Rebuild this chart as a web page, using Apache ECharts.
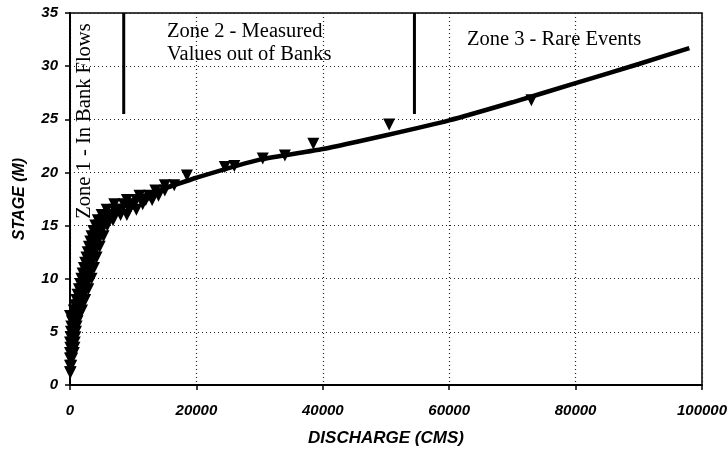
<!DOCTYPE html>
<html lang="en">
<head>
  <meta charset="UTF-8">
  <title>Stage - Discharge</title>
  <style>
    html, body { margin: 0; padding: 0; background: #fff; }
    #main { width: 727px; height: 451px; }
  </style>
</head>
<body>
  <div id="main"></div>
  <script src="https://cdn.jsdelivr.net/npm/echarts@6/dist/echarts.min.js"></script>
  <script>
    // rating curve (discharge in cms, stage in m)
    const curveQ = [0, 300, 600, 1200, 1800, 2500, 3100, 3700, 4500, 5500, 6700, 8500, 10500, 13000, 16000, 20000, 30000, 40000, 50000, 60000, 70000, 80000, 90000, 98000]
    const curveH = [1.2, 3, 5, 6.5, 8, 10, 12, 13, 15, 15.6, 16, 17, 17.5, 18.1, 18.7, 19.5, 21.2, 22.2, 23.5, 24.9, 26.6, 28.4, 30.2, 31.7]

    // measured values
    const obsQ = [
      0, 100, 0, 200, 0, 150, 350, 0, 300, 600, 50, 400, 700, 0, 350, 750, 100, 500, 850,
      150, 600, 950, 200, 700, 1050, 300, 850, 1200, 0, 500, 1000, 1400, 600, 1100, 1550,
      800, 1300, 1750, 1000, 1500, 2000, 1200, 1700, 2200, 1400, 1900, 2400, 1600, 2100, 2600,
      1800, 2400, 2900, 2000, 2600, 3100, 2200, 2800, 3300, 2400, 3000, 3500, 2600, 3200, 3700,
      2800, 3400, 3900, 3000, 3600, 4200, 3200, 3800, 4400, 3400, 4000, 4700, 3700, 4300, 5000,
      4000, 4600, 5300, 4400, 5200, 6000, 5000, 6000, 7000, 8000, 5800, 7000, 8200, 9400,
      7000, 8500, 10000, 9000, 10500, 12000, 11000, 12500, 14000, 13500, 15000, 15000, 16500,
      1900, 2400, 2900, 3400, 3800, 4200, 4700, 5300, 5900, 6800, 9000, 10500, 11500, 13000,
      18500, 24500, 26000, 30500, 34000, 38500, 50500, 73000]
    const obsH = [
      1.2, 1.2, 1.8, 1.8, 2.5, 2.5, 2.5, 3, 3, 3, 3.5, 3.5, 3.5, 4, 4, 4, 4.5, 4.5, 4.5,
      5, 5, 5, 5.5, 5.5, 5.5, 6, 6, 6, 6.5, 6.5, 6.5, 6.5, 7, 7, 7,
      7.5, 7.5, 7.5, 8, 8, 8, 8.5, 8.5, 8.5, 9, 9, 9, 9.5, 9.5, 9.5,
      10, 10, 10, 10.5, 10.5, 10.5, 11, 11, 11, 11.5, 11.5, 11.5, 12, 12, 12,
      12.5, 12.5, 12.5, 13, 13, 13, 13.5, 13.5, 13.5, 14, 14, 14, 14.5, 14.5, 14.5,
      15, 15, 15, 15.5, 15.5, 15.5, 16, 16, 16, 16, 16.5, 16.5, 16.5, 16.5,
      17, 17, 17, 17.4, 17.4, 17.4, 17.8, 17.8, 17.8, 18.3, 18.3, 18.8, 18.8,
      7, 8, 9, 10, 11, 12, 13, 14, 15, 15.5, 16, 16.5, 17, 17.4,
      19.7, 20.5, 20.6, 21.3, 21.6, 22.7, 24.5, 26.8]

    // zone boundaries
    const zoneQ = [8500, 54500]
    const zoneH = [35, 25.5]

    const xTicks = [0, 20000, 40000, 60000, 80000, 100000]
    const yTicks = [0, 5, 10, 15, 20, 25, 30, 35]

    const myChart = echarts.init(document.getElementById('main'))

    const tickFont = { fontFamily: 'Liberation Sans', fontWeight: 'bold', fontStyle: 'italic', fontSize: 15, color: '#000' }
    const zoneFont = 'normal 20.5px "Liberation Serif"'

    const option = {
      animation: false,
      grid: {
        left: 70, right: 25, top: 13, bottom: 66, outerBoundsMode: 'none',
        show: true, borderColor: '#000', borderWidth: 1.5
      },
      xAxis: {
        type: 'value', min: xTicks[0], max: xTicks[xTicks.length - 1], interval: 20000,
        axisLine: { lineStyle: { color: '#000', width: 2 } },
        axisTick: { show: true, length: 5, lineStyle: { color: '#000', width: 1.5 } },
        axisLabel: Object.assign({ margin: 18, formatter: v => String(v) }, tickFont),
        splitLine: { show: true, lineStyle: { type: [1, 3], color: '#222', width: 1.2 } },
        name: 'DISCHARGE (CMS)', nameLocation: 'middle', nameGap: 45,
        nameTextStyle: Object.assign({}, tickFont, { fontSize: 17 })
      },
      yAxis: {
        type: 'value', min: yTicks[0], max: yTicks[yTicks.length - 1], interval: 5,
        axisLine: { show: true, lineStyle: { color: '#000', width: 2 } },
        axisTick: { show: true, length: 5, lineStyle: { color: '#000', width: 1.5 } },
        axisLabel: Object.assign({ margin: 12 }, tickFont),
        splitLine: { show: true, lineStyle: { type: [1, 3], color: '#222', width: 1.2 } },
        name: 'STAGE (M)', nameLocation: 'middle', nameGap: 42,
        nameTextStyle: Object.assign({}, tickFont, { fontSize: 16 })
      },
      series: [
        {
          type: 'scatter', symbol: 'triangle', symbolRotate: 180, symbolSize: 12,
          itemStyle: { color: '#000', opacity: 1 },
          data: obsQ.map((q, i) => [q, obsH[i]]), z: 3
        },
        {
          type: 'line', symbol: 'none', smooth: 0.2,
          lineStyle: { color: '#000', width: 4.5 },
          data: curveQ.map((q, i) => [q, curveH[i]]), z: 4
        },
        {
          type: 'line', symbol: 'none', lineStyle: { color: '#000', width: 3 },
          data: zoneH.map(h => [zoneQ[0], h])
        },
        {
          type: 'line', symbol: 'none', lineStyle: { color: '#000', width: 3 },
          data: zoneH.map(h => [zoneQ[1], h])
        }
      ],
      graphic: [
        { type: 'text', left: 167, top: 21, style: { text: 'Zone 2 - Measured', font: zoneFont, fill: '#000' } },
        { type: 'text', left: 167, top: 44, style: { text: 'Values out of Banks', font: zoneFont, fill: '#000' } },
        { type: 'text', left: 467, top: 29, style: { text: 'Zone 3 - Rare Events', font: zoneFont, fill: '#000' } },
        {
          type: 'text', x: 85, y: 121, rotation: Math.PI / 2,
          style: { text: 'Zone 1 - In Bank Flows', font: zoneFont, fill: '#000', align: 'center', verticalAlign: 'middle' }
        }
      ]
    }
    myChart.setOption(option)
  </script>
</body>
</html>
